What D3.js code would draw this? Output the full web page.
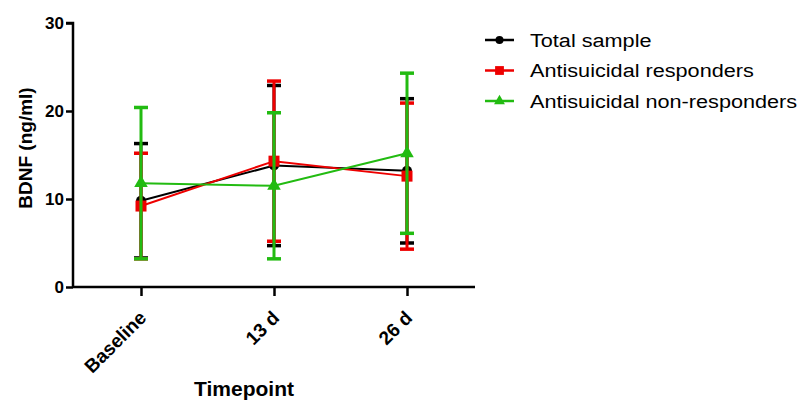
<!DOCTYPE html>
<html>
<head>
<meta charset="utf-8">
<script src="https://cdn.jsdelivr.net/npm/d3@7"></script>
<style>
  body { margin: 0; background: #fff; }
  svg { font-family: "Liberation Sans", Arial, sans-serif; }
</style>
</head>
<body>
<svg id="chart" width="800" height="400"></svg>
<script>
// Dados
const timepoints = ['Baseline', '13 d', '26 d'];
const yTicks = [0, 10, 20, 30];

const totalMean = [9.8, 13.8, 13.2];
const totalSd = [6.5, 9.1, 8.2];
const respMean = [9.2, 14.3, 12.6];
const respSd = [6.0, 9.1, 8.3];
const nonRespMean = [11.8, 11.5, 15.2];
const nonRespSd = [8.6, 8.3, 9.1];

const seriesNames = ['Total sample', 'Antisuicidal responders', 'Antisuicidal non-responders'];
const seriesColors = ['#000000', '#ee0000', '#22bb11'];
const seriesMarkers = ['circle', 'square', 'triangle'];

const series = [
    { mean: totalMean, sd: totalSd },
    { mean: respMean, sd: respSd },
    { mean: nonRespMean, sd: nonRespSd }
].map((s, i) => ({ ...s, name: seriesNames[i], color: seriesColors[i], marker: seriesMarkers[i] }));

const svg = d3.select('#chart');

// Escalas
const x = d3.scalePoint().domain(timepoints).range([141, 407]);
const y = d3.scaleLinear().domain([0, 30]).range([287, 23]);

// Eixo Y
const yAxis = svg.append('g').attr('transform', 'translate(73,0)')
    .call(d3.axisLeft(y).tickValues(yTicks).tickSize(7).tickPadding(2));
yAxis.select('.domain').attr('stroke-width', 2.5).attr('d', `M-7,${y(30)}H0V${y(0)}`);
yAxis.selectAll('.tick line').attr('stroke-width', 2.5);
yAxis.selectAll('.tick text').attr('font-size', 17).attr('font-weight', 'bold').attr('fill', '#000')
    .attr('font-family', '"Liberation Sans", Arial, sans-serif');

// Eixo X
const xAxis = svg.append('g').attr('transform', `translate(0,${y(0)})`)
    .call(d3.axisBottom(x).tickSize(9).tickPadding(6));
xAxis.select('.domain').attr('stroke-width', 2.5).attr('d', 'M73,0H475');
xAxis.selectAll('.tick line').attr('stroke-width', 2.5);
xAxis.selectAll('.tick text')
    .attr('font-size', 19).attr('font-weight', 'bold').attr('fill', '#000')
    .attr('font-family', '"Liberation Sans", Arial, sans-serif')
    .attr('text-anchor', 'end')
    .attr('x', 0).attr('y', 0).attr('dy', null)
    .attr('transform', 'translate(6,32) rotate(-45)');

// Títulos dos eixos
svg.append('text')
    .attr('transform', `translate(32,148) rotate(-90)`)
    .attr('text-anchor', 'middle')
    .attr('font-size', 19).attr('font-weight', 'bold')
    .text('BDNF (ng/ml)');

svg.append('text')
    .attr('x', 244).attr('y', 396)
    .attr('text-anchor', 'middle')
    .attr('font-size', 21).attr('font-weight', 'bold')
    .text('Timepoint');

function drawMarker(g, type, color, cx, cy, size) {
    if (type === 'circle') {
        g.append('circle').attr('cx', cx).attr('cy', cy).attr('r', size * 0.5).attr('fill', color);
    } else if (type === 'square') {
        g.append('rect').attr('x', cx - size * 0.55).attr('y', cy - size * 0.55)
            .attr('width', size * 1.1).attr('height', size * 1.1).attr('fill', color);
    } else {
        const s = d3.symbol().type(d3.symbolTriangle).size(size * size * 0.8);
        g.append('path').attr('transform', `translate(${cx},${cy})`).attr('d', s()).attr('fill', color);
    }
}

const line = d3.line().x((d, i) => x(timepoints[i])).y(d => y(d));

// Séries: preto, vermelho, verde por cima
series.forEach(s => {
    const g = svg.append('g');
    // barras de erro
    s.mean.forEach((m, i) => {
        const cx = x(timepoints[i]);
        const lo = y(m - s.sd[i]), hi = y(m + s.sd[i]);
        g.append('line').attr('x1', cx).attr('x2', cx).attr('y1', lo).attr('y2', hi)
            .attr('stroke', s.color).attr('stroke-width', 3);
        [lo, hi].forEach(yy => {
            g.append('line').attr('x1', cx - 7).attr('x2', cx + 7).attr('y1', yy).attr('y2', yy)
                .attr('stroke', s.color).attr('stroke-width', 3.5);
        });
    });
    g.append('path').datum(s.mean).attr('d', line)
        .attr('fill', 'none').attr('stroke', s.color).attr('stroke-width', 2);
    s.mean.forEach((m, i) => drawMarker(g, s.marker, s.color, x(timepoints[i]), y(m), 10));
});

// Legenda
const legend = svg.append('g').attr('transform', 'translate(485,40)');
series.forEach((s, i) => {
    const row = legend.append('g').attr('transform', `translate(0,${i * 30.5})`);
    row.append('line').attr('x1', 0).attr('x2', 29).attr('y1', 0).attr('y2', 0)
        .attr('stroke', s.color).attr('stroke-width', 2.5);
    drawMarker(row, s.marker, s.color, 14.5, 0, 8);
    row.append('text').attr('transform', 'translate(45,0) scale(1.14,1)').attr('dy', '0.36em')
        .attr('font-size', 19).attr('fill', '#000').text(s.name);
});
</script>
</body>
</html>
